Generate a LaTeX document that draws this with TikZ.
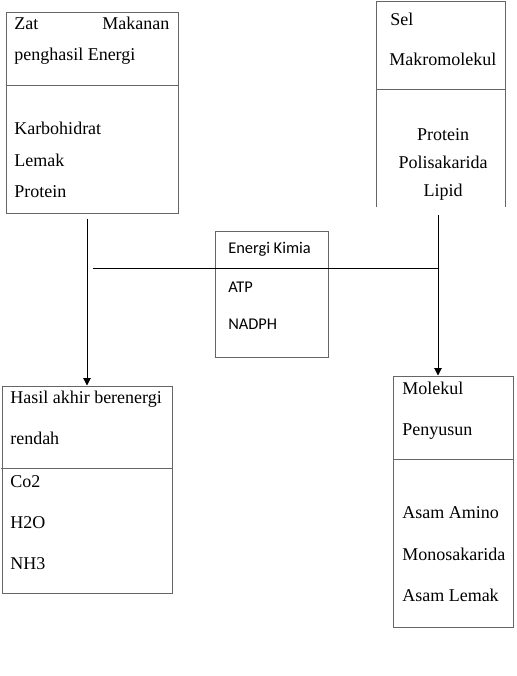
\documentclass[tikz,border=0pt]{standalone}
\usepackage{fontspec}
\setmainfont{Liberation Serif}
\newfontfamily\calibri{Carlito}
\usetikzlibrary{arrows.meta,positioning}

\begin{document}
\begin{tikzpicture}[
  x=0.75pt, y=-0.75pt,
  box/.style={rectangle, draw=black!60, line width=0.75pt, inner sep=0pt},
  boxline/.style={draw=black!60, line width=0.75pt},
  txt/.style={anchor=base west, inner sep=0pt, font=\fontsize{13.5}{16}\selectfont},
  ctxt/.style={anchor=base, inner sep=0pt, font=\fontsize{13.5}{16}\selectfont},
  ktxt/.style={anchor=base west, inner sep=0pt, font=\calibri\fontsize{12.3}{15}\selectfont},
  arr/.style={line width=0.75pt, -{Triangle[length=5.5pt,width=5.5pt]}}]
  \useasboundingbox (0,0) rectangle (517,676);
  % boxes
  \node[box, minimum width=129pt, minimum height=150.75pt] (zat) at (92,112.5) {};
  \node[rectangle, inner sep=0pt, minimum width=96pt, minimum height=153.75pt] (sel) at (441,104.5) {};
  \node[box, minimum width=84.75pt, minimum height=94.5pt] (kimia) at (271.5,294) {};
  \node[box, minimum width=127.5pt, minimum height=155.25pt] (hasil) at (87,489.5) {};
  \node[box, minimum width=90pt, minimum height=188.25pt] (mol) at (453,501.5) {};
  \draw[boxline] (sel.south west) |- (sel.north east) -- (sel.south east);
  % dividers
  \draw[boxline] (zat.north west) ++(0,74) -- ++(172,0);
  \draw[boxline] (sel.north west) ++(0,88) -- ++(128,0);
  \draw[boxline] (hasil.north west) ++(0,83) -- ++(170,0);
  \draw[boxline] (mol.north west) ++(0,84) -- ++(120,0);
  % texts
  \node[txt] (zat1) at (14,29) {\makebox[116.25pt]{Zat\hfill Makanan}};
  \node[txt] (zat2) at (14,60) {penghasil Energi};
  \node[txt] (zat3) at (14,134) {Karbohidrat};
  \node[txt] (zat4) at (14,166) {Lemak};
  \node[txt] (zat5) at (14,197) {Protein};
  \node[txt] (sel1) at (390,25) {Sel};
  \node[txt] (sel2) at (389,65) {Makromolekul};
  \node[ctxt] (sel3) at (443,140) {Protein};
  \node[ctxt] (sel4) at (443,168) {Polisakarida};
  \node[ctxt] (sel5) at (443,196) {Lipid};
  \node[ktxt] (kimia1) at (228,253) {Energi Kimia};
  \node[ktxt] (kimia2) at (228,292) {ATP};
  \node[ktxt] (kimia3) at (228,329) {NADPH};
  \node[txt] (hasil1) at (10,403) {Hasil akhir berenergi};
  \node[txt] (hasil2) at (10,444) {rendah};
  \node[txt] (hasil3) at (10,487) {Co2};
  \node[txt] (hasil4) at (10,528) {H2O};
  \node[txt] (hasil5) at (10,569) {NH3};
  \node[txt] (mol1) at (402,394) {Molekul};
  \node[txt] (mol2) at (402,435) {Penyusun};
  \node[txt] (mol3) at (402,518) {Asam Amino};
  \node[txt] (mol4) at (402,560) {Monosakarida};
  \node[txt] (mol5) at (402,601) {Asam Lemak};
  % connectors
  \coordinate (rtop) at (438,215);
  \coordinate (hl) at (93,268);
  \draw[arr] ([yshift=-3.75pt]zat.south -| hasil.north) -- (hasil.north);
  \draw[arr] (rtop) -- (rtop |- mol.north);
  \draw[line width=0.75pt] (hl) -- (hl -| rtop);
\end{tikzpicture}
\end{document}
